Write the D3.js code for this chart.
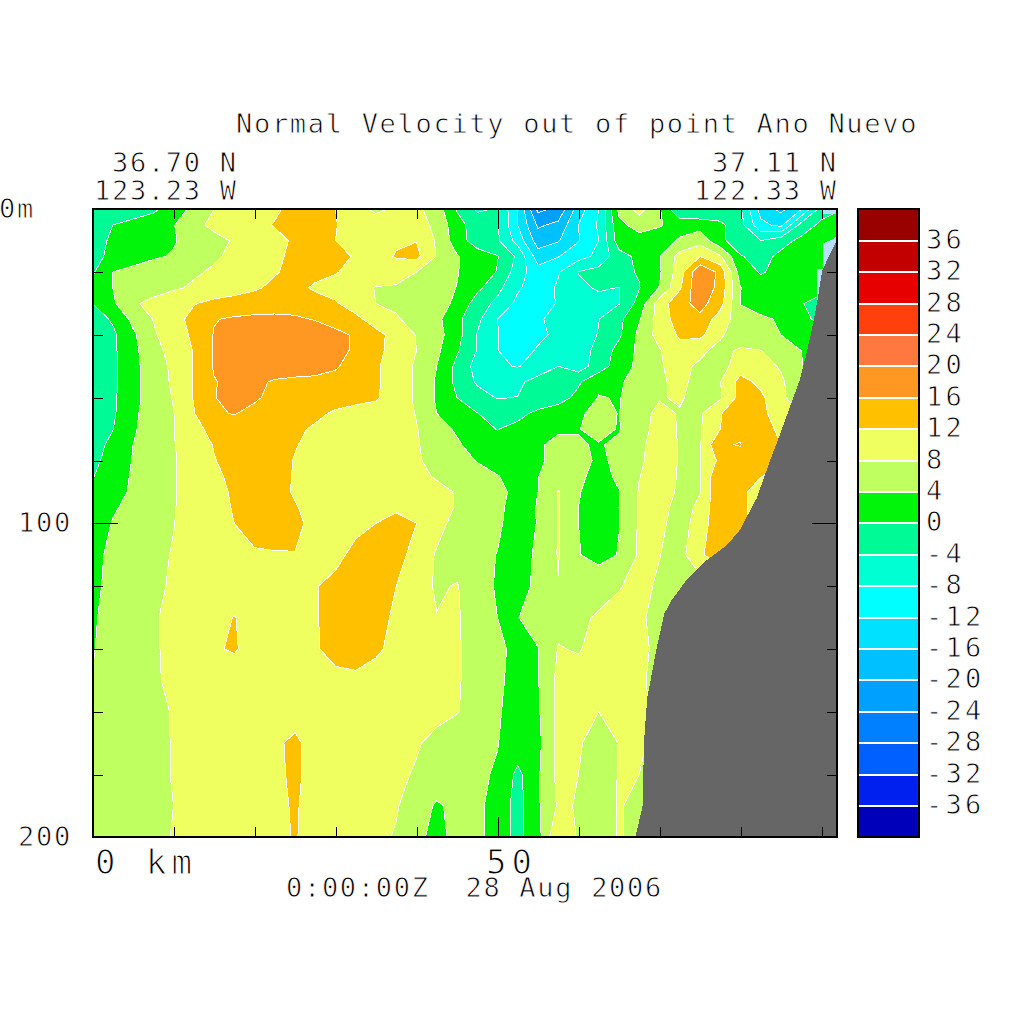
<!DOCTYPE html>
<html><head><meta charset="utf-8">
<script src="https://cdn.jsdelivr.net/npm/d3@7"></script>
<style>html,body{margin:0;background:#fff}svg{display:block}</style></head>
<body><svg id="c" width="1024" height="1024"></svg>
<script>
const titleText = "Normal Velocity out of point Ano Nuevo";
const timeText = "0:00:00Z  28 Aug 2006";
const levels = d3.range(-40, 40, 4);
const levelColors = ["#0000BB","#0020F0","#0060FF","#0080FF","#00A0FF","#00C0FF","#00E0FF","#00FFFF","#00FFD2","#00FA96","#00F50A","#C0FF60","#F0FF60","#FFC000","#FF9822","#FF7840","#FF400D","#E60000","#C20000","#990000"];
const barLabels = d3.range(-36, 40, 4);
const gridStepKm = 2.5;
const gridDepths = [0,5,10,15,20,25,30,35,40,45,50,55,60,65,70,75,80,85,90,95,100,110,120,130,140,150,160,170,180,190,200];
const velocity = [
[-3,-3,-2,-0.8,2,5,8,9.5,10.5,11.5,13,14,12,9,7.5,8.5,9,6,-0.3,-4.5,-3.7,-12,-25,-23,-14,-8,5,9.5,4.5,-4.1,-4.1,-2.5,-3.5,-13.5,-17,-12,-2,0],
[-2.8,0,1.2,2.5,3.8,7,8.8,9.7,11,12.2,13.5,14,12.2,10,9.3,9.8,9.8,7,1.5,-2,-3.5,-12,-20.6,-19,-12,-7.5,3,5.5,4.2,3,2.5,0.8,-2.5,-11,-13,-2.5,1,2],
[-2.5,1,1.5,2.5,3.7,5.5,7,8.3,9.5,11,12.5,13,12,10,9.5,11.5,11.9,7.5,2,-2,-3.5,-9.5,-18,-16.3,-12.2,-8,2,2.5,2.8,4.3,6.5,1,-2.5,-3.9,-1.5,1,1.5,2],
[-1.5,1.2,2.5,3.5,4.3,6,7.5,8.8,10,11.3,12.8,13.5,13,11.7,10.5,12.3,13,7.8,4.3,2,0.2,-4.8,-14,-12.2,-9.5,-7,-1.5,1,3.8,9.5,12,8.5,0.3,-1.5,1,1.5,1.5,1.5],
[-0.5,4,5,6,6.8,7.5,8.5,9.5,10.5,11.7,13,13,12.2,11,10.5,10,8,6,4.2,2,-0.2,-6,-10.5,-8.3,-3.8,-2.5,-1,0.3,3.5,10,19.5,15,2,-0.3,1,2,2.5,3],
[1,4,5.3,6.5,7.5,8.5,9.5,10.5,11.5,12.8,13,11.5,10.8,9.5,7.8,7.5,7,5.7,3.9,1,-2.8,-7.5,-10,-7.5,-5,-3.5,-4.1,-0.2,4.2,11.5,19.5,14.5,4.1,1.5,1.5,1.5,1.5,1],
[0,3.4,7.5,9,10.5,11.8,13,13.5,14,14,14.5,13.5,12.3,10.5,8,7.5,6.5,5,3.5,-2,-5,-9,-11,-7.5,-6,-5.5,-4.2,1.5,10,14.5,17.5,13.5,3.8,2,1.5,0.3,-2,0],
[-2,0.5,5,8.1,10.8,13,15.8,16.5,16.8,17,16.5,15.8,14.5,12.8,10.5,8.3,7,5,1,-3,-8,-10.5,-8.4,-7,-6,-4.1,-1,3.7,9.7,14,15,10,6,4.8,3.5,1,-1,0],
[-2,-0.8,3.3,7.5,10,12.7,16.2,18,18.5,19,18.5,18,17,15.5,13,10.8,7.8,5.5,1.5,-4.2,-7.8,-11,-9,-7,-6,-3.8,-0.7,5,9.5,12.5,13,8.5,6,5,4,2,1.5,1],
[-2,-0.8,3,6.5,9.5,12.2,16.2,17.8,18.2,18.5,18.5,18,17,15.5,13,10.5,8,4.8,0.5,-4.2,-7.9,-10,-7.5,-6.5,-5.5,-3,1.5,4.8,7.7,10.8,8.7,7,8.5,8.1,5.5,4,1,0],
[-2,-1,2.9,6,8.8,12.3,16.3,17.5,18,18.5,18.2,17.5,16.5,14,12.5,10,7.5,4,-1,-5.5,-7.5,-8.2,-6.5,-4,-6,-2,2,5,7.8,8.8,7.5,6.5,10,10,7.5,4.3,1,0],
[-2,-0.8,2.8,6.2,8.5,12.2,15.8,17,17,15.5,15,15,14.5,13.7,12.6,10,7.5,3.5,-1,-4.5,-5,-4.8,-2.5,-2,-0.5,3,3.5,5.5,7.7,8.5,7.3,7.9,13.5,11,8.8,4.5,4,4],
[-2,-0.7,2.7,6,8.2,12.2,15.9,16.8,16.5,15,14.5,14,13.5,13,12.4,9.8,7.5,3.5,0,-2.5,-4.2,-3.9,-2.5,-1.5,1,4.2,3.8,6,7.8,8.3,7,7.5,13.5,12.8,9,5,4,4],
[-2,-0.6,3.2,6,7.9,11.8,15.5,16.2,15,14.5,13.8,12.8,11.5,10.8,10.5,9.8,7.8,4,1.5,0.1,-1.5,-1,0.8,2,3.5,5,3.9,6.8,8.8,7.8,7.5,11.7,15,13.5,9,8,8,8],
[-1.5,-0.1,3.5,6,7.9,11,13,14,14,13.5,12.7,11.5,11,10.5,10,9.5,8.2,5.5,3.5,1,-0.1,1,3,3.5,3.9,5,3.8,7,9,7.8,7.6,12,15.5,14,11,8,8,8],
[-1.3,0.8,4,6,7.8,10,12.2,14,14.8,14,12.2,11,10.7,10.2,9.8,9.3,8.3,6.5,4.5,2.5,1,1,3.5,5,4.2,3.8,4.5,7.3,9.5,7.8,7.7,15.8,16.1,13.5,12,10,10,10],
[-1,1.5,4.2,6,7.7,9.5,11.8,13.5,14.5,13.5,11.8,11,10.5,10,9.5,9,8.3,7.2,5.5,3.8,2,1.5,3.5,5,5,3.5,4.6,7.5,9.5,7.8,7.8,13,15,13.5,12,10,10,10],
[-0.2,2.2,4.4,6,7.7,9.5,11.3,12.8,14,13,11.8,11,10.5,10,9.6,9.3,8.8,7.7,6.7,5.5,4.2,2.3,3.9,6,4.6,3,4.5,7.9,9.5,7.7,7.9,15.5,14,12.2,10,10,10,10],
[1,2.8,4.5,6,7.7,9.5,11.3,12.3,13.5,13,11.7,11,10.5,10,9.7,9.5,9.2,8.8,7.8,6.5,5,3,4,8.2,4.2,2.5,3.9,8.3,9.5,7.5,7.9,15.5,13,10,10,10,10,10],
[1.5,3.6,5,6.3,7.8,9.5,11,12.2,13.6,13.5,12.2,11,10.5,10.5,10.8,11,10,9,7.8,6,4.8,2.5,4.2,8.2,4,2,4,8.4,9,7,8.5,15.9,13,10,10,10,10,10],
[2,4.2,5.5,6.5,7.9,9.5,10.8,12,13.7,14,12.8,11,10.5,11,12,14,12,9,7,6,4.7,2,4.2,8.2,4,2,3.9,8.5,8.8,6.5,9.5,15.5,13,10,10,10,10,10],
[3,4.8,6,7.2,8.2,9.5,10.3,11,11.5,11.7,11.9,11,11,13,14,14,10,7.7,6.5,5,3.9,1.5,5,8.2,4.2,2.5,4.2,8.5,8.1,6.5,11.5,14,12,10,10,10,10,10],
[3.2,5,6.3,7.5,8.3,9.5,10,10.5,11,11.3,11.5,11.8,13,14,13.5,12,9.5,7.6,8.2,6,3.5,1.5,5.5,7.9,6.5,7,7.8,9,7.5,5.5,6,8,8,8,8,8,8,8],
[3.6,5.2,6.5,7.8,8.5,9.5,11,12.1,11,11,11.2,11.7,13.5,14,13,11.5,10,8.1,8.4,6,4,3.9,5.5,7,7.5,8.3,9,9.5,5,5,5,5,5,5,5,5,5,5],
[3.8,5.3,6.5,7.8,8.4,9.5,11.7,12.3,10.8,10.8,11,11.7,13,13.5,12.4,11.3,10.5,9.5,8.4,6.5,4.8,3,3.9,8.2,7.7,9.5,9.8,9,7,7,7,7,7,7,7,7,7,7],
[4.1,5.5,6.5,7.8,8.3,9,10,10.3,10.5,10.5,10.8,11,11.2,11.3,11,10.8,10.3,9.6,8.3,6.8,4.8,2.5,3.8,9,9.5,10,10,8.5,7,7,7,7,7,7,7,7,7,7],
[4.2,5.5,6.5,7.6,8.1,9,10,10.3,10.5,10.5,10.8,11,10.8,10.8,10.6,10.3,10,9.5,8.2,6.5,4.5,2,3.5,9,9,8,9.5,9,7,7,7,7,7,7,7,7,7,7],
[4.2,5.5,6.5,7.5,8.1,9,10,10.3,10.5,11.5,12.6,10.8,10.8,10.5,10.2,9.7,8.5,6.5,5.5,4.5,4.1,2.5,3,9,8.5,6,8.1,8.5,7,7,7,7,7,7,7,7,7,7],
[4.3,5.5,6.5,7.5,8.1,9,10,10.3,10.5,11.3,12.6,10.8,10.5,10.2,9.7,9,7.5,6.5,5.5,4.5,3.7,-1,3.5,9,8,6,8.2,8,7,7,7,7,7,7,7,7,7,7],
[4.3,5.5,6.5,7.5,8,9,10,10.3,10.5,11.3,12.3,10.8,10.5,10,9.3,8.3,6,3.5,5,4.8,2.5,-1.5,3.5,8.5,7.8,6,8.3,7,7,7,7,7,7,7,7,7,7,7],
[4.3,5.5,6.5,7.5,8.1,9,10,10.3,10.5,11.2,12.2,10.8,10.2,9.5,8.8,7.7,4.8,3,5,5,2,-1,2.5,12.1,7.5,6,8.3,7,7,7,7,7,7,7,7,7,7,7]
];
const seafloorKm = [67,67.9,68.1,68.5,69.6,70.6,71.5,73.3,75.8,78.3,79.9,82,83.8,84.6,87.3,88,88.8,89.5,90.1,91,91.7,92];
const seafloorM = [200,190.4,169,155.4,140.4,128.7,124.5,118.2,111.8,107,102.2,92,79,73.6,54.5,47.5,38.5,29,19.4,14.6,10.8,9];
const maskKm = [89.4,90.2,90.2,91,91.7,92];
const maskTopM = [19,19,10.8,10,9,8];
const maskStripKm = [90.2,92];
const maskStripM = [1.4,1.4];

const x = d3.scaleLinear().domain([0,92]).range([92.5,837.7]);
const y = d3.scaleLinear().domain([0,200]).range([209.3,837.3]);
const bar = d3.scaleLinear().domain([-40,40]).range([837.3,209.3]);
const L=93,R=837,T=209,B=837,BL=857.5,BR=919;
const svg = d3.select("#c");
svg.append("defs").append("clipPath").attr("id","plot").append("rect").attr("x",L).attr("y",T).attr("width",R-L).attr("height",B-T);

const nx = velocity[0].length, ny = velocity.length;
const rowToDepth = d3.scaleLinear().domain(d3.range(ny)).range(gridDepths);
const contours = d3.contours().size([nx,ny]).thresholds(levels).smooth(true)(velocity.flat());
const proj = d3.geoTransform({point(a,b){this.stream.point(x((a-0.5)*gridStepKm), y(rowToDepth(b-0.5)));}});
const path = d3.geoPath(proj);
const g = svg.append("g").attr("clip-path","url(#plot)");
g.selectAll("path.band").data(contours).join("path").attr("class","band")
 .attr("d",path).attr("fill",d=>levelColors[levels.indexOf(d.value)])
 .attr("stroke","#fff").attr("stroke-width",1).attr("shape-rendering","crispEdges");

const sea = seafloorKm.map((k,i)=>({k,m:seafloorM[i]}));
const depthAt = d3.scaleLinear().domain(seafloorKm).range(seafloorM);
g.append("path").attr("d",d3.area().x(d=>x(d.k)).y0(d=>y(d.t)).y1(d=>y(depthAt(d.k)))(maskKm.map((k,i)=>({k,t:maskTopM[i]}))))
 .attr("fill","#BBDDFF").attr("shape-rendering","crispEdges");
g.append("path").attr("d",d3.area().x(d=>x(d.k)).y0(y(0)).y1(d=>y(d.m))(maskStripKm.map((k,i)=>({k,m:maskStripM[i]}))))
 .attr("fill","#BBDDFF").attr("shape-rendering","crispEdges");
g.append("path").attr("d",d3.area().x(d=>x(d.k)).y0(d=>y(d.m)).y1(y(200))(sea))
 .attr("fill","#666666").attr("shape-rendering","crispEdges");

const xTicks = d3.range(10,100,10), yTicks = d3.range(20,200,20);
function styleAxis(sel){sel.select(".domain").remove();sel.selectAll("text").remove();sel.selectAll("line").attr("stroke","#000").attr("stroke-width",1).attr("shape-rendering","crispEdges");}
svg.append("g").attr("transform",`translate(0,${B})`).call(d3.axisTop(x).tickValues(xTicks).tickSizeOuter(0).tickSize(10)).call(styleAxis)
 .selectAll("line").attr("y2",d=>d===50?-20:-10);
svg.append("g").attr("transform",`translate(0,${T})`).call(d3.axisBottom(x).tickValues(xTicks).tickSize(10)).call(styleAxis)
 .selectAll("line").attr("y2",d=>d===50?20:10);
svg.append("g").attr("transform",`translate(${L},0)`).call(d3.axisRight(y).tickValues(yTicks).tickSize(10)).call(styleAxis)
 .selectAll("line").attr("x2",d=>d===100?25:10);
svg.append("g").attr("transform",`translate(${R},0)`).call(d3.axisLeft(y).tickValues(yTicks).tickSize(10)).call(styleAxis)
 .selectAll("line").attr("x2",d=>d===100?-25:-10);
svg.append("rect").attr("x",L).attr("y",T).attr("width",R-L).attr("height",B-T).attr("fill","none").attr("stroke","#000").attr("stroke-width",2).attr("shape-rendering","crispEdges");

svg.selectAll("rect.lev").data(levels).join("rect").attr("class","lev")
 .attr("x",BL).attr("width",BR-BL).attr("y",d=>bar(d+4)).attr("height",d=>bar(d)-bar(d+4))
 .attr("fill",(d,i)=>levelColors[i]).attr("shape-rendering","crispEdges");
svg.selectAll("line.barline").data(barLabels).join("line").attr("class","barline")
 .attr("x1",BL).attr("x2",BR).attr("y1",d=>bar(d)).attr("y2",d=>bar(d)).attr("stroke","#fff").attr("stroke-width",2).attr("shape-rendering","crispEdges");
svg.append("rect").attr("x",BL).attr("y",T).attr("width",BR-BL).attr("height",B-T).attr("fill","none").attr("stroke","#000").attr("stroke-width",2).attr("shape-rendering","crispEdges");

function label(tx,ty,str,size,pitch,anchor){
  svg.append("text").attr("x",tx).attr("y",ty).text(str)
   .style("white-space","pre").attr("opacity",0.999)
   .attr("font-family","'DejaVu Sans Mono',monospace").attr("font-size",size)
   .attr("letter-spacing",pitch-0.602*size).attr("text-anchor",anchor||"start")
   .attr("fill","#000").attr("stroke","#fff").attr("stroke-width",size>30?1.1:0.8);
}
label(236,133,titleText,27,17.95);
label(112,172,"36.70 N",27,17.95);
label(94,200,"123.23 W",27,17.95);
label(712,172,"37.11 N",27,17.95);
label(694,200,"122.33 W",27,17.95);
label(-1,218,"0m",27,17.95);
label(18,532,"100",27,17.95);
label(18,846,"200",27,17.95);
label(95,874,"0 km",34,25.5);
label(486,874,"50",34,25.5);
label(286,897,timeText,27,17.95);
barLabels.forEach(v=>label(926,bar(v)+8,String(v),27,19.5));
</script></body></html>
